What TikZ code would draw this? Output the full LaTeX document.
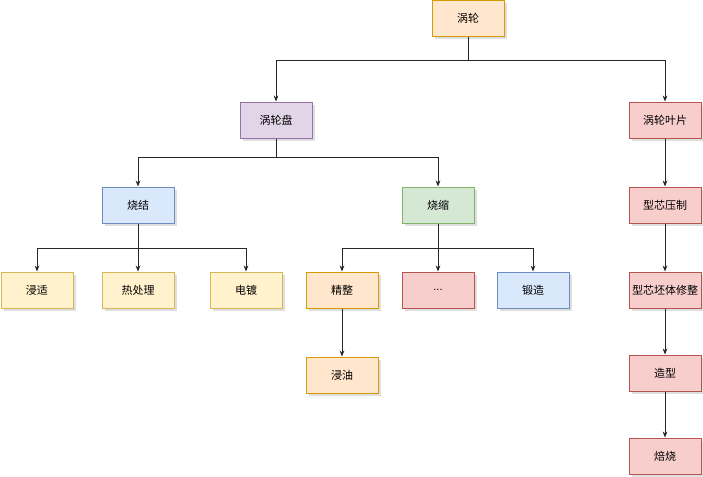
\documentclass[tikz,border=0pt]{standalone}
\usepackage{fontspec}
\newfontfamily\cjk{Noto Sans CJK SC}
\newfontfamily\latn{Liberation Sans}
\usepackage{xcolor}
\usepackage{tikz}
\usetikzlibrary{arrows.meta,shadows}
\definecolor{orgfill}{HTML}{FFE6CC}
\definecolor{orgline}{HTML}{D79B00}
\definecolor{purfill}{HTML}{E1D5E7}
\definecolor{purline}{HTML}{9673A6}
\definecolor{redfill}{HTML}{F8CECC}
\definecolor{redline}{HTML}{B85450}
\definecolor{blufill}{HTML}{DAE8FC}
\definecolor{bluline}{HTML}{6C8EBF}
\definecolor{grnfill}{HTML}{D5E8D4}
\definecolor{grnline}{HTML}{82B366}
\definecolor{ylwfill}{HTML}{FFF2CC}
\definecolor{ylwline}{HTML}{D6B656}

\begin{document}
\begin{tikzpicture}[x=0.75pt, y=-0.75pt]
  \tikzstyle{box}=[draw, line width=0.75pt, minimum width=54pt, minimum height=27pt, inner sep=0pt, align=center, font=\cjk\fontsize{8.25}{10}\selectfont, drop shadow={opacity=0.25, shadow xshift=2pt, shadow yshift=-2pt}]
  \tikzstyle{orange}=[box, fill=orgfill, draw=orgline]
  \tikzstyle{purple}=[box, fill=purfill, draw=purline]
  \tikzstyle{red}=[box, fill=redfill, draw=redline]
  \tikzstyle{blue}=[box, fill=blufill, draw=bluline]
  \tikzstyle{green}=[box, fill=grnfill, draw=grnline]
  \tikzstyle{yellow}=[box, fill=ylwfill, draw=ylwline]
  \tikzstyle{arrow}=[-{Stealth[length=4.5pt, width=3.5pt]}, line width=0.6pt, color=black!85]

  \useasboundingbox (0,0) rectangle (703,476);

  \node[orange] (turbine) at (468,18) {涡轮};
  \node[purple] (disk) at (276,120) {涡轮盘};
  \node[red] (blade) at (665,120) {涡轮叶片};

  \node[blue] (sinter) at (138,205) {烧结};
  \node[green] (shrink) at (438,205) {烧缩};

  \node[yellow] (dip) at (37,290) {浸适};
  \node[yellow] (heat) at (138,290) {热处理};
  \node[yellow] (plate) at (246,290) {电镀};
  \node[orange] (finish) at (342,290) {精整};
  \node[red] (more) at (438,290) {\latn ...};
  \node[blue] (forge) at (533,290) {锻造};
  \node[orange] (oil) at (342,375) {浸油};

  \node[red] (press) at (665,205) {型芯压制};
  \node[red] (trim) at (665,290) {型芯坯体修整};
  \node[red] (mould) at (665,373) {造型};
  \node[red] (bake) at (665,456) {焙烧};

  % tree edges
  \draw[arrow] (turbine.south) -- ++(0,24) -| (disk.north);
  \draw[arrow] (turbine.south) -- ++(0,24) -| (blade.north);
  \draw[arrow] (disk.south) -- ++(0,19) -| (sinter.north);
  \draw[arrow] (disk.south) -- ++(0,19) -| (shrink.north);
  \draw[arrow] (sinter.south) -- ++(0,25) -| (dip.north);
  \draw[arrow] (sinter.south) -- (heat.north);
  \draw[arrow] (sinter.south) -- ++(0,25) -| (plate.north);
  \draw[arrow] (shrink.south) -- ++(0,25) -| (finish.north);
  \draw[arrow] (shrink.south) -- (more.north);
  \draw[arrow] (shrink.south) -- ++(0,25) -| (forge.north);
  \draw[arrow] (finish) -- (oil);

  % blade chain
  \draw[arrow] (blade) -- (press);
  \draw[arrow] (press) -- (trim);
  \draw[arrow] (trim) -- (mould);
  \draw[arrow] (mould) -- (bake);
\end{tikzpicture}
\end{document}
